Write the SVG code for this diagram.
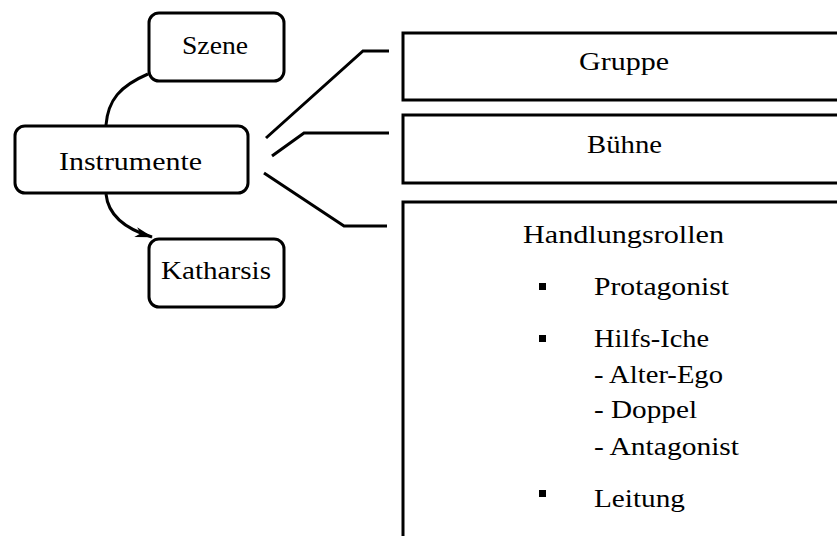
<svg xmlns="http://www.w3.org/2000/svg" width="837" height="536" viewBox="0 0 837 536">
  <style>
    .box { fill: #fff; stroke: #000; stroke-width: 3; }
    .line { fill: none; stroke: #000; stroke-width: 3; }
    text { font-family: "Liberation Serif", "DejaVu Serif", serif; font-size: 25px; fill: #000; }
  </style>
  <defs>
    <marker id="arrow" viewBox="0 0 18 12" refX="17" refY="6" markerWidth="18" markerHeight="12" markerUnits="userSpaceOnUse" orient="auto">
      <path d="M0,1 L18,6 L0,11 L5,6 Z" fill="#000"/>
    </marker>
  </defs>

  <rect width="837" height="536" fill="#fff"/>

  <g id="connectors">
    <path class="line" d="M148,74 C120,86 108,100 106,125"/>
    <path class="line" d="M106,194 C108,214 122,228 152,237" marker-end="url(#arrow)"/>
    <polyline class="line" points="266,138 363,51 389,51"/>
    <polyline class="line" points="272,156 304,133 389,133"/>
    <polyline class="line" points="264,173 344,226 387,226"/>
  </g>

  <g id="szene">
    <rect class="box" x="149" y="13" width="135" height="68" rx="10"/>
    <text x="182" y="54" textLength="66" lengthAdjust="spacingAndGlyphs">Szene</text>
  </g>

  <g id="instrumente">
    <rect class="box" x="15" y="126" width="233" height="67" rx="10"/>
    <text x="59" y="170" textLength="143" lengthAdjust="spacingAndGlyphs">Instrumente</text>
  </g>

  <g id="katharsis">
    <rect class="box" x="149" y="239" width="135" height="68" rx="10"/>
    <text x="161" y="279" textLength="110" lengthAdjust="spacingAndGlyphs">Katharsis</text>
  </g>

  <g id="gruppe">
    <rect class="box" x="403" y="33" width="440" height="67"/>
    <text x="579" y="70" textLength="90" lengthAdjust="spacingAndGlyphs">Gruppe</text>
  </g>

  <g id="buehne">
    <rect class="box" x="403" y="115" width="440" height="68"/>
    <text x="587" y="153" textLength="75" lengthAdjust="spacingAndGlyphs">Bühne</text>
  </g>

  <g id="handlungsrollen">
    <rect class="box" x="403" y="202" width="440" height="340"/>
    <text x="523" y="243" textLength="201" lengthAdjust="spacingAndGlyphs">Handlungsrollen</text>
    <rect x="539" y="283" width="7" height="7"/>
    <text x="594" y="295" textLength="135" lengthAdjust="spacingAndGlyphs">Protagonist</text>
    <rect x="539" y="335" width="7" height="7"/>
    <text x="594" y="347" textLength="115" lengthAdjust="spacingAndGlyphs">Hilfs-Iche</text>
    <text x="594" y="383" textLength="129" lengthAdjust="spacingAndGlyphs">- Alter-Ego</text>
    <text x="594" y="418" textLength="103" lengthAdjust="spacingAndGlyphs">- Doppel</text>
    <text x="594" y="455" textLength="145" lengthAdjust="spacingAndGlyphs">- Antagonist</text>
    <rect x="539" y="490" width="7" height="7"/>
    <text x="594" y="507" textLength="91" lengthAdjust="spacingAndGlyphs">Leitung</text>
  </g>
</svg>
